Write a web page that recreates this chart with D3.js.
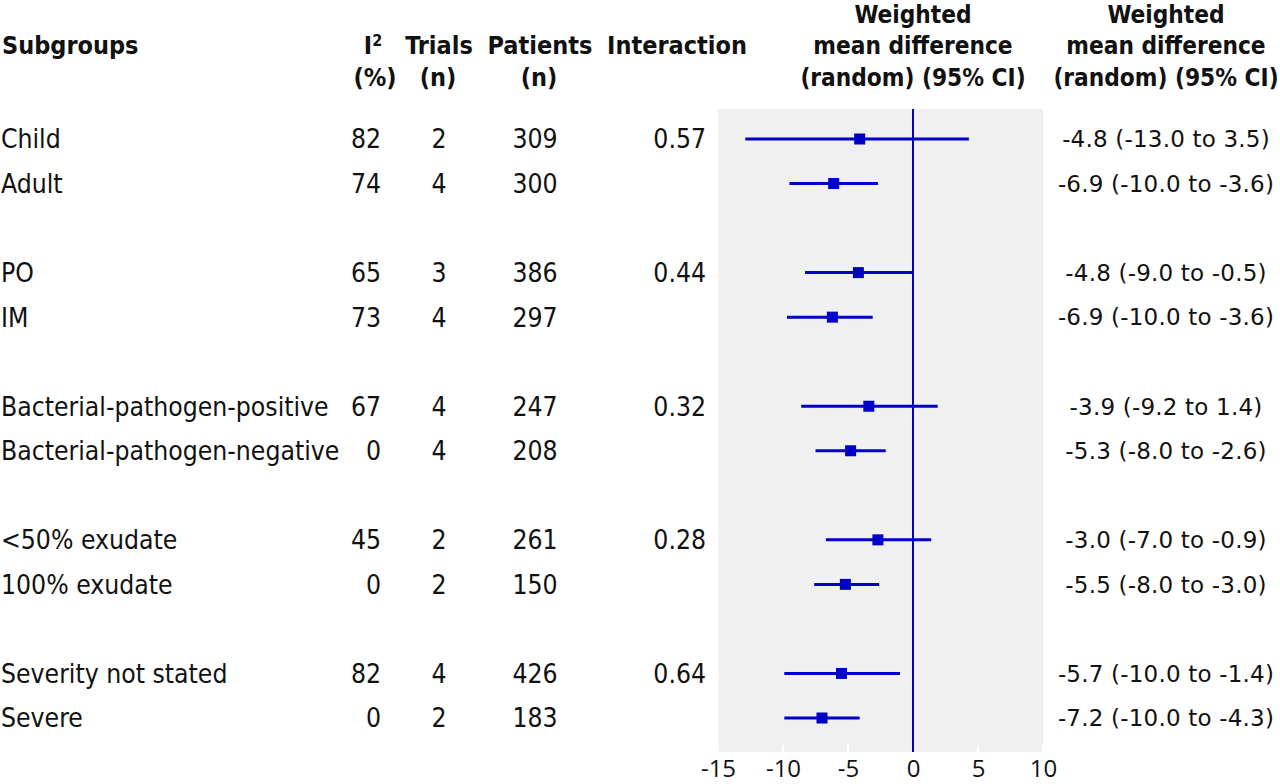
<!DOCTYPE html>
<html><head><meta charset="utf-8">
<script src="https://cdn.jsdelivr.net/npm/d3@7"></script>
<style>
body{margin:0;background:#fff;}
svg{display:block;}
.tbl{font-family:"DejaVu Sans Condensed","DejaVu Sans",sans-serif;font-stretch:condensed;font-size:26.3px;fill:#111;}
.hdr{font-family:"DejaVu Sans Condensed","DejaVu Sans",sans-serif;font-stretch:condensed;font-size:25px;font-weight:bold;fill:#111;}
.hdr.sm{font-size:24.2px;}
.cilab{font-family:"DejaVu Sans",sans-serif;font-size:23px;letter-spacing:0.2px;fill:#111;}
.tick{font-family:"Open Sans",sans-serif;font-size:24px;fill:#111;}
</style></head>
<body><svg id="c" width="1280" height="784"></svg>
<script>
const subgroups = ["Child","Adult","PO","IM","Bacterial-pathogen-positive","Bacterial-pathogen-negative","\u003C50% exudate","100% exudate","Severity not stated","Severe"];
const groupIndex = [0,0,1,1,2,2,3,3,4,4];
const i2 = [82,74,65,73,67,0,45,0,82,0];
const trials = [2,4,3,4,4,4,2,2,4,2];
const patients = [309,300,386,297,247,208,261,150,426,183];
const interaction = ["0.57","","0.44","","0.32","","0.28","","0.64",""];
const estimate = [-4.1,-6.1,-4.2,-6.2,-3.4,-4.8,-2.7,-5.2,-5.5,-7.0];
const lower = [-12.9,-9.5,-8.3,-9.7,-8.6,-7.5,-6.7,-7.6,-9.9,-9.9];
const upper = [4.3,-2.7,0.0,-3.1,1.9,-2.1,1.4,-2.6,-1.0,-4.1];
const ciLabels = ["-4.8 (-13.0 to 3.5)","-6.9 (-10.0 to -3.6)","-4.8 (-9.0 to -0.5)","-6.9 (-10.0 to -3.6)","-3.9 (-9.2 to 1.4)","-5.3 (-8.0 to -2.6)","-3.0 (-7.0 to -0.9)","-5.5 (-8.0 to -3.0)","-5.7 (-10.0 to -1.4)","-7.2 (-10.0 to -4.3)"];
const xTicks = [-15,-10,-5,0,5,10];

const svg = d3.select("#c");
const blue = "#0000c8";
const x = d3.scaleLinear().domain([-15,10]).range([718,1043]);
const slot = d3.scaleLinear().domain([0,13]).range([139,718]);
const rows = subgroups.map((s,i)=>({s, i, y: slot(groupIndex[i]*3 + (i%2))}));
const plotTop = 109, plotBot = 752;

// plot background
svg.append("rect").attr("x",x(-15)).attr("y",plotTop).attr("width",x(10)-x(-15)).attr("height",plotBot-plotTop).attr("fill","#f0f0f0");

// axis
const axis = d3.axisBottom(x).tickValues(xTicks).tickFormat(d=>String(d)).tickSize(0).tickPadding(0);
const ag = svg.append("g").attr("transform",`translate(0,${plotBot})`).call(axis);
ag.select(".domain").remove();
ag.selectAll(".tick line").remove();
ag.selectAll(".tick text").attr("class","tick").attr("font-family",null).attr("font-size",null).attr("y",25).attr("dy","0").attr("fill","#111");
// white tick marks inside
svg.append("g").selectAll("line").data(xTicks).join("line")
  .attr("x1",d=>x(d)).attr("x2",d=>x(d)).attr("y1",plotBot-7).attr("y2",plotBot)
  .attr("stroke","#fff").attr("stroke-width",2);

// zero line
svg.append("line").attr("x1",x(0)).attr("x2",x(0)).attr("y1",plotTop).attr("y2",plotBot).attr("stroke",blue).attr("stroke-width",2);

// CI lines & squares
const g = svg.append("g");
g.selectAll("line.ciline").data(rows).join("line").attr("class","ciline")
  .attr("x1",d=>x(lower[d.i])).attr("x2",d=>x(upper[d.i])).attr("y1",d=>d.y).attr("y2",d=>d.y)
  .attr("stroke",blue).attr("stroke-width",3);
const sq = 11;
g.selectAll("rect").data(rows).join("rect")
  .attr("x",d=>x(estimate[d.i])-sq/2).attr("y",d=>d.y-sq/2).attr("width",sq).attr("height",sq).attr("fill",blue);

// table text
const t = svg.append("g");
function col(vals, xpos, anchor, cls){
  t.append("g").selectAll("text").data(rows).join("text")
   .attr("class",cls).attr("x",xpos).attr("y",d=>d.y).attr("dy","0.36em").attr("text-anchor",anchor)
   .text(d=>vals[d.i]);
}
col(subgroups,1,"start","tbl");
col(i2,381,"end","tbl");
col(trials,439,"middle","tbl");
col(patients,535,"middle","tbl");
col(interaction,706,"end","tbl");
col(ciLabels,1166,"middle","cilab");

// headers
const h = svg.append("g");
function hd(txt, xx, yy, anchor, cls){ return h.append("text").attr("class","hdr"+(cls?" "+cls:"")).attr("x",xx).attr("y",yy).attr("dy","0.36em").attr("text-anchor",anchor||"middle").text(txt); }
hd("Subgroups",2,45,"start");
const i2t = hd("I",373,45);
i2t.append("tspan").attr("dy","-0.5em").attr("font-size","16px").text("2");
hd("(%)",375,77);
hd("Trials",439,45); hd("(n)",438,77);
hd("Patients",540,45); hd("(n)",539,77);
hd("Interaction",677,45);
[913,1166].forEach(cx=>{ hd("Weighted",cx,14,"middle","sm"); hd("mean difference",cx,45,"middle","sm"); hd("(random) (95% CI)",cx,77,"middle","sm"); });
</script></body></html>
